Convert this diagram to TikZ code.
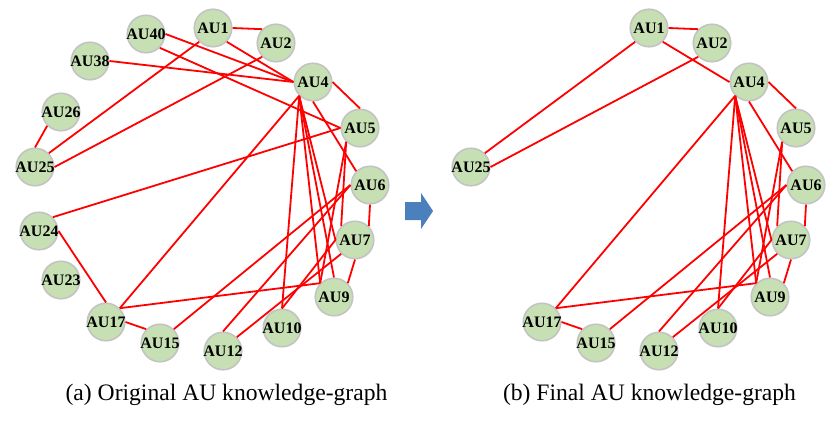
\documentclass[tikz,border=0pt]{standalone}
\usepackage{fontspec}
\setmainfont{Liberation Serif}
\definecolor{nodegreen}{RGB}{198,224,180}
\definecolor{nodegray}{RGB}{195,195,195}
\definecolor{arrowblue}{RGB}{76,128,188}
\begin{document}
\begin{tikzpicture}[x=1pt,y=-1pt,
  au/.style={circle, fill=nodegreen, draw=nodegray, line width=1.6pt, minimum size=37.5pt, inner sep=0pt, font=\fontsize{16}{16}\selectfont\bfseries},
  edge/.style={draw=red, line width=1.8pt},
  captext/.style={font=\fontsize{23.6}{26}\selectfont, inner sep=0pt}]
\useasboundingbox (0,0) rectangle (839,421);
% ---------- left graph (a) ----------
\foreach \n/\x/\y in {AU1/213/28, AU2/276/43, AU40/146/34, AU38/90/61, AU4/313/82, AU26/61/112, AU5/360/128, AU25/35/167, AU6/370/185, AU24/39/231, AU7/355/240, AU23/61/280, AU9/334/297, AU17/106/322, AU10/282/328, AU15/160/343, AU12/223/351}
  \node[au] (a\n) at (\x,\y) {\makebox[0pt]{\n}};
% ---------- right graph (b) ----------
\foreach \n/\x/\y in {AU1/213/28, AU2/276/43, AU4/313/82, AU5/360/128, AU25/35/167, AU6/370/185, AU7/355/240, AU9/334/297, AU17/106/322, AU10/282/328, AU15/160/343, AU12/223/351}
  \node[au] (b\n) at (\x+436,\y) {\makebox[0pt]{\n}};
% ---------- edges common to both ----------
\foreach \pre in {a,b}{
  \foreach \p/\s in {AU1.east/AU2.north west, AU1.south east/AU4.west, AU1.south west/AU25.north east, AU2.south west/AU25.east, AU4.east/AU5.north, AU4.south/AU6.north west, AU4.south west/AU17.north east, AU4.south west/AU10.north, AU4.south west/AU9.north west, AU4.south west/AU9.north, AU4.south west/AU7.west, AU5.south west/AU7.north west, AU5.south west/AU9.north west, AU6.south/AU7.north east, AU6.west/AU15.north east, AU6.west/AU12.north, AU7.south/AU9.north east, AU7.south west/AU12.north east, AU7.west/AU10.north, AU17.north east/AU9.north west, AU17.east/AU15.north west}
    \draw[edge] (\pre\p) -- (\pre\s);
}
% ---------- edges only in (a) ----------
\foreach \p/\s in {AU40.east/AU4.west, AU40.south east/AU5.west, AU38.east/AU4.west, AU26.south west/AU25.north, AU5.west/AU24.north east, AU24.east/AU17.north}
  \draw[edge] (a\p) -- (a\s);
% ---------- arrow ----------
\fill[arrowblue] (405,202) -- (421,202) -- (421,193) -- (433,211) -- (421,229) -- (421,220) -- (405,220) -- cycle;
% ---------- captions ----------
\node[captext] (capa) at (226.5,395) {(a) Original AU knowledge-graph};
\node[captext] (capb) at (649.5,395) {(b) Final AU knowledge-graph};
\end{tikzpicture}
\end{document}
